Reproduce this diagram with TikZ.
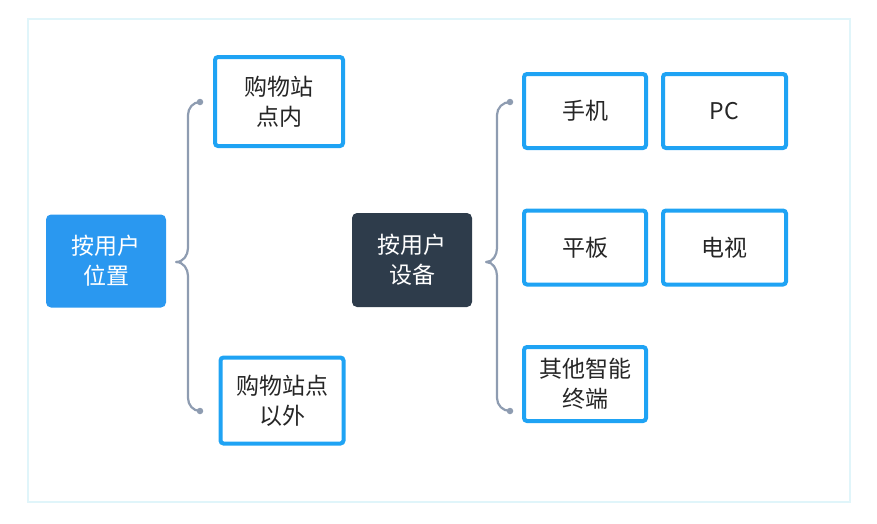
\documentclass[tikz,border=0pt]{standalone}
\usepackage{fontspec}
\newfontfamily\cjk{Noto Sans CJK SC}
\usepackage{tikz}
\usetikzlibrary{calc}

\definecolor{framecyan}{HTML}{E0F5FA}
\definecolor{boxblue}{HTML}{1FA3F4}
\definecolor{fillblue}{HTML}{2A98F0}
\definecolor{darknavy}{HTML}{2E3C4B}
\definecolor{bracegray}{HTML}{8E9CB1}

\begin{document}
\begin{tikzpicture}[
    x=1pt, y=-1pt,
    root/.style={rectangle, rounded corners=5pt, minimum width=120pt, minimum height=93pt, inner sep=0pt, align=center, font=\cjk\fontsize{23}{30}\selectfont, text=white},
    leaf/.style={rectangle, draw=boxblue, line width=4pt, rounded corners=3pt, fill=white, inner sep=0pt, align=center, font=\cjk\fontsize{23}{30}\selectfont, text=black!85},
    brace/.style={draw=bracegray, line width=2.2pt, line cap=round},
    tipdot/.style={circle, fill=bracegray, inner sep=0pt, minimum size=6.5pt}
]
\useasboundingbox (0,0) rectangle (877,523);

% --- Outer frame ---
\draw[framecyan, line width=2pt] (28,19) rectangle (850,502);

% --- Left group: by location ---
\node[root, fill=fillblue] (loc) at (106,261) {按用户\\位置};

\node[leaf, minimum width=128pt, minimum height=89pt] (inside) at (279,101.5) {购物站\\点内};
\node[leaf, minimum width=123pt, minimum height=86pt] (outside) at (282,400.5) {购物站点\\以外};

% Brace
\coordinate (locTip) at ($(loc.east)+(10,1)$);
\coordinate (locTop) at (200,102);
\coordinate (locBot) at (200,411);
\draw[brace] (locTip) to[out=0, in=-90] (188,248) -- (188,115) to[out=90, in=180] (locTop);
\draw[brace] (locTip) to[out=0, in=90] (188,276) -- (188,398) to[out=-90, in=180] (locBot);
\node[tipdot] (locTopDot) at (locTop) {};
\node[tipdot] (locBotDot) at (locBot) {};

% --- Right group: by device ---
\node[root, fill=darknavy, minimum height=94pt] (dev) at (412,260) {按用户\\设备};

\node[leaf, minimum width=122pt, minimum height=74pt] (phone) at (585,111) {手机};
\node[leaf, minimum width=123pt, minimum height=74pt] (pc) at (724.5,111) {PC};
\node[leaf, minimum width=122pt, minimum height=74pt] (tablet) at (585,247.5) {平板};
\node[leaf, minimum width=123pt, minimum height=74pt] (tv) at (724.5,247.5) {电视};
\node[leaf, minimum width=122pt, minimum height=74pt] (other) at (585,384) {其他智能\\终端};

% Brace
\coordinate (devTip) at ($(dev.east)+(14,2)$);
\coordinate (devTop) at (510,102);
\coordinate (devBot) at (510,411);
\draw[brace] (devTip) to[out=0, in=-90] (497,248) -- (497,115) to[out=90, in=180] (devTop);
\draw[brace] (devTip) to[out=0, in=90] (497,276) -- (497,398) to[out=-90, in=180] (devBot);
\node[tipdot] (devTopDot) at (devTop) {};
\node[tipdot] (devBotDot) at (devBot) {};

\end{tikzpicture}
\end{document}
